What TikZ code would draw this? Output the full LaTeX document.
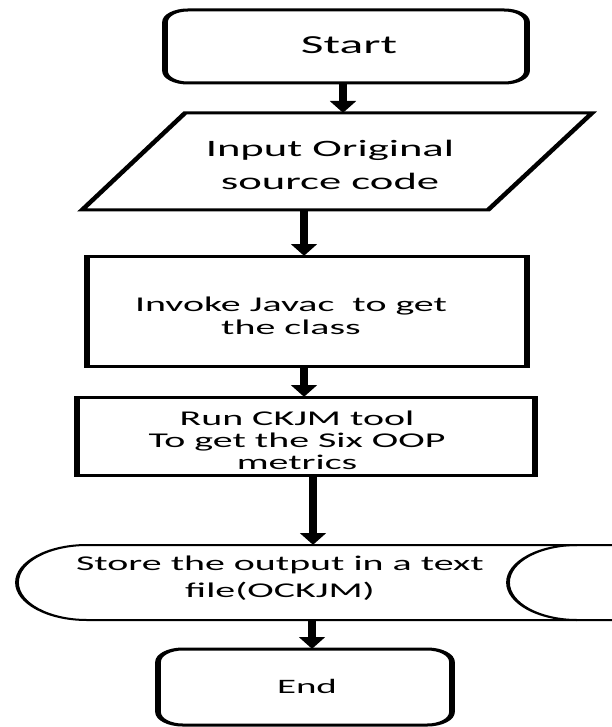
\documentclass[tikz,border=0pt]{standalone}
\usepackage{fontspec}
\setmainfont{Carlito}
\usetikzlibrary{arrows.meta}
\begin{document}
\begin{tikzpicture}
\useasboundingbox (0,0) rectangle (612pt,-727pt);
\begin{scope}[transform canvas={xscale=1.9}, x=0.526316pt, y=-1pt,
  box/.style={draw, line width=3pt, inner sep=0pt, outer sep=0pt},
  txt/.style={align=center, inner sep=0pt},
  arr/.style={line width=4.2pt, -{Triangle[width=13pt 0 1,length=12pt 0 1]}},
  shapeline/.style={line width=3pt, line join=miter}]
  % Start
  \node[box, rounded corners=12pt, minimum width=190.5pt, minimum height=73pt] (start) at (346,46.5) {};
  \node[txt, font=\fontsize{26}{30}\selectfont] (startT) at (349,45) {Start};
  % Input (parallelogram)
  \draw[shapeline] (82,210) -- (185,113) -- (592,113) -- (488,210) -- cycle;
  \node[txt, font=\fontsize{23.5}{33}\selectfont] (input) at (330,165) {Input Original\\source code};
  \coordinate (inTop) at (343,113);
  \coordinate (inBot) at (304,210);
  % Invoke
  \node[box, minimum width=231.6pt, minimum height=110pt] (invoke) at (307,311) {};
  \node[txt, font=\fontsize{21}{22.5}\selectfont] (invokeT) at (291,316) {Invoke Javac\ \ to get\\the class};
  % Run
  \node[box, minimum width=241pt, minimum height=78pt] (run) at (306,436) {};
  \node[txt, font=\fontsize{21}{22}\selectfont] (runT) at (297,440) {Run CKJM tool\\To get the Six OOP\\metrics};
  % Store
  \draw[line width=2pt] (640,545) -- (87,545) arc[start angle=270, end angle=90, x radius=70, y radius=37.5] -- (640,620);
  \draw[line width=2pt] (577,545) arc[start angle=270, end angle=90, x radius=69, y radius=37.5];
  \node[txt, font=\fontsize{21}{27}\selectfont] (storeT) at (280,578) {Store the output in a text\\file(OCKJM)};
  \coordinate (stTop) at (313,545);
  \coordinate (stBot) at (312,620);
  % End
  \node[box, rounded corners=13pt, minimum width=154.7pt, minimum height=76pt] (stop) at (305,687) {};
  \node[txt, font=\fontsize{20.5}{24}\selectfont] (stopT) at (307,686) {End};
  % Connectors
  \draw[arr] (start.south -| inTop) -- (inTop);
  \draw[arr] (inBot) -- (inBot |- invoke.north);
  \draw[arr] (inBot |- invoke.south) -- (inBot |- run.north);
  \draw[arr] (stTop |- run.south) -- (stTop);
  \draw[arr] (stBot) -- (stBot |- stop.north);
\end{scope}
\end{tikzpicture}
\end{document}
